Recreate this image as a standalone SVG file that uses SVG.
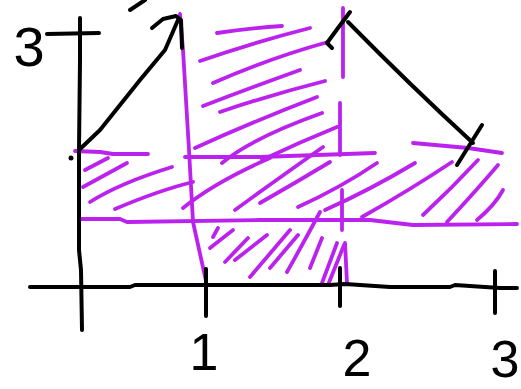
<svg xmlns="http://www.w3.org/2000/svg" width="521" height="389" viewBox="0 0 521 389">
<style>
.k{fill:none;stroke:#000;stroke-width:4;stroke-linecap:round;stroke-linejoin:round}
.m{fill:none;stroke:#bb22ee;stroke-width:3.8;stroke-linecap:round;stroke-linejoin:round}
.t{font-family:"Liberation Sans",Arial,sans-serif;font-size:56px;fill:#000;text-anchor:middle}
.b{font-size:52px}
</style>
<rect width="521" height="389" fill="#fff"/>
<g id="hatching">
<path class="m" d="M217,33 Q250,28 282,26"/>
<path class="m" d="M200,61 Q255,42 310,28"/>
<path class="m" d="M213,83 Q270,58 328,42"/>
<path class="m" d="M203,106 Q250,88 300,70"/>
<path class="m" d="M220,112 Q270,95 325,81"/>
<path class="m" d="M195,148 Q252,122 317,97"/>
<path class="m" d="M222,163 Q252,138 322,113"/>
<path class="m" d="M262,160 Q300,142 337,127"/>
<path class="m" d="M85,170 L108,158"/>
<path class="m" d="M83,187 L127,163"/>
<path class="m" d="M90,202 Q120,183 172,167"/>
<path class="m" d="M115,209 Q160,190 193,182"/>
<path class="m" d="M183,208 Q215,182 270,158"/>
<path class="m" d="M235,210 Q272,183 323,147"/>
<path class="m" d="M260,203 Q295,183 330,162"/>
<path class="m" d="M298,207 Q340,188 377,163"/>
<path class="m" d="M325,210 Q370,190 415,163"/>
<path class="m" d="M362,217 Q410,190 452,162"/>
<path class="m" d="M423,215 Q452,188 478,160"/>
<path class="m" d="M447,222 Q475,192 498,165"/>
<path class="m" d="M477,220 Q495,205 503,190"/>
<path class="m" d="M213,237 L218,228"/>
<path class="m" d="M210,248 L233,230"/>
<path class="m" d="M225,262 L248,238"/>
<path class="m" d="M235,260 L267,235"/>
<path class="m" d="M250,277 L290,230"/>
<path class="m" d="M270,268 L298,235"/>
<path class="m" d="M287,272 Q305,240 320,212"/>
<path class="m" d="M310,268 L322,238"/>
<path class="m" d="M322,283 L337,243"/>
<path class="m" d="M328,285 L344,245"/>
</g>
<g id="boundaries">
<path class="m" d="M180,14 L183,50 L186,100 L189,150 L193,222 L206,281"/>
<path class="m" d="M343,8 L343,77"/>
<path class="m" d="M340,103 L340,155"/>
<path class="m" d="M342,190 L342,230"/>
<path class="m" d="M345,243 L347,283"/>
<path class="m" d="M75,151 L100,152 L113,154 L148,154"/>
<path class="m" d="M185,157 L260,157 L375,153"/>
<path class="m" d="M413,143 L468,148 L502,153"/>
<path class="m" d="M80,219 L120,219 L127,222 L260,220 L370,220 L413,225 L517,224"/>
</g>
<g id="axes">
<path class="k" d="M80,18 L80,60 L79,150 L79,250 L81,270 L82,330"/>
<path class="k" d="M47,34 L99,33"/>
<path class="k" d="M30,287 L130,287 L135,285 L330,285 L345,284 L390,287 L450,287 L455,285 L500,288 L517,288"/>
<path class="k" d="M206,269 L206,316"/>
<path class="k" d="M340,268 L340,306"/>
<path class="k" d="M495,271 L495,313"/>
<circle cx="71" cy="158" r="2.5" fill="#000"/>
</g>
<g id="graph">
<path class="k" d="M79,150 L100,130 L140,80 L165,50 L178,20"/>
<path class="k" d="M152,28 L163,19 L176,16 L181,20 L182,48"/>
<path class="k" d="M130,10 L145,0"/>
<path class="k" d="M348,22 Q410,85 473,143"/>
<path class="k" d="M332,48 L327,43 L338,28 L350,12"/>
<path class="k" d="M482,125 L457,165"/>
</g>
<g id="labels">
<text class="t" x="29" y="66">3</text>
<text class="t b" x="204" y="370">1</text>
<text class="t b" x="357" y="376">2</text>
<text class="t b" x="505" y="377">3</text>
</g>
</svg>
